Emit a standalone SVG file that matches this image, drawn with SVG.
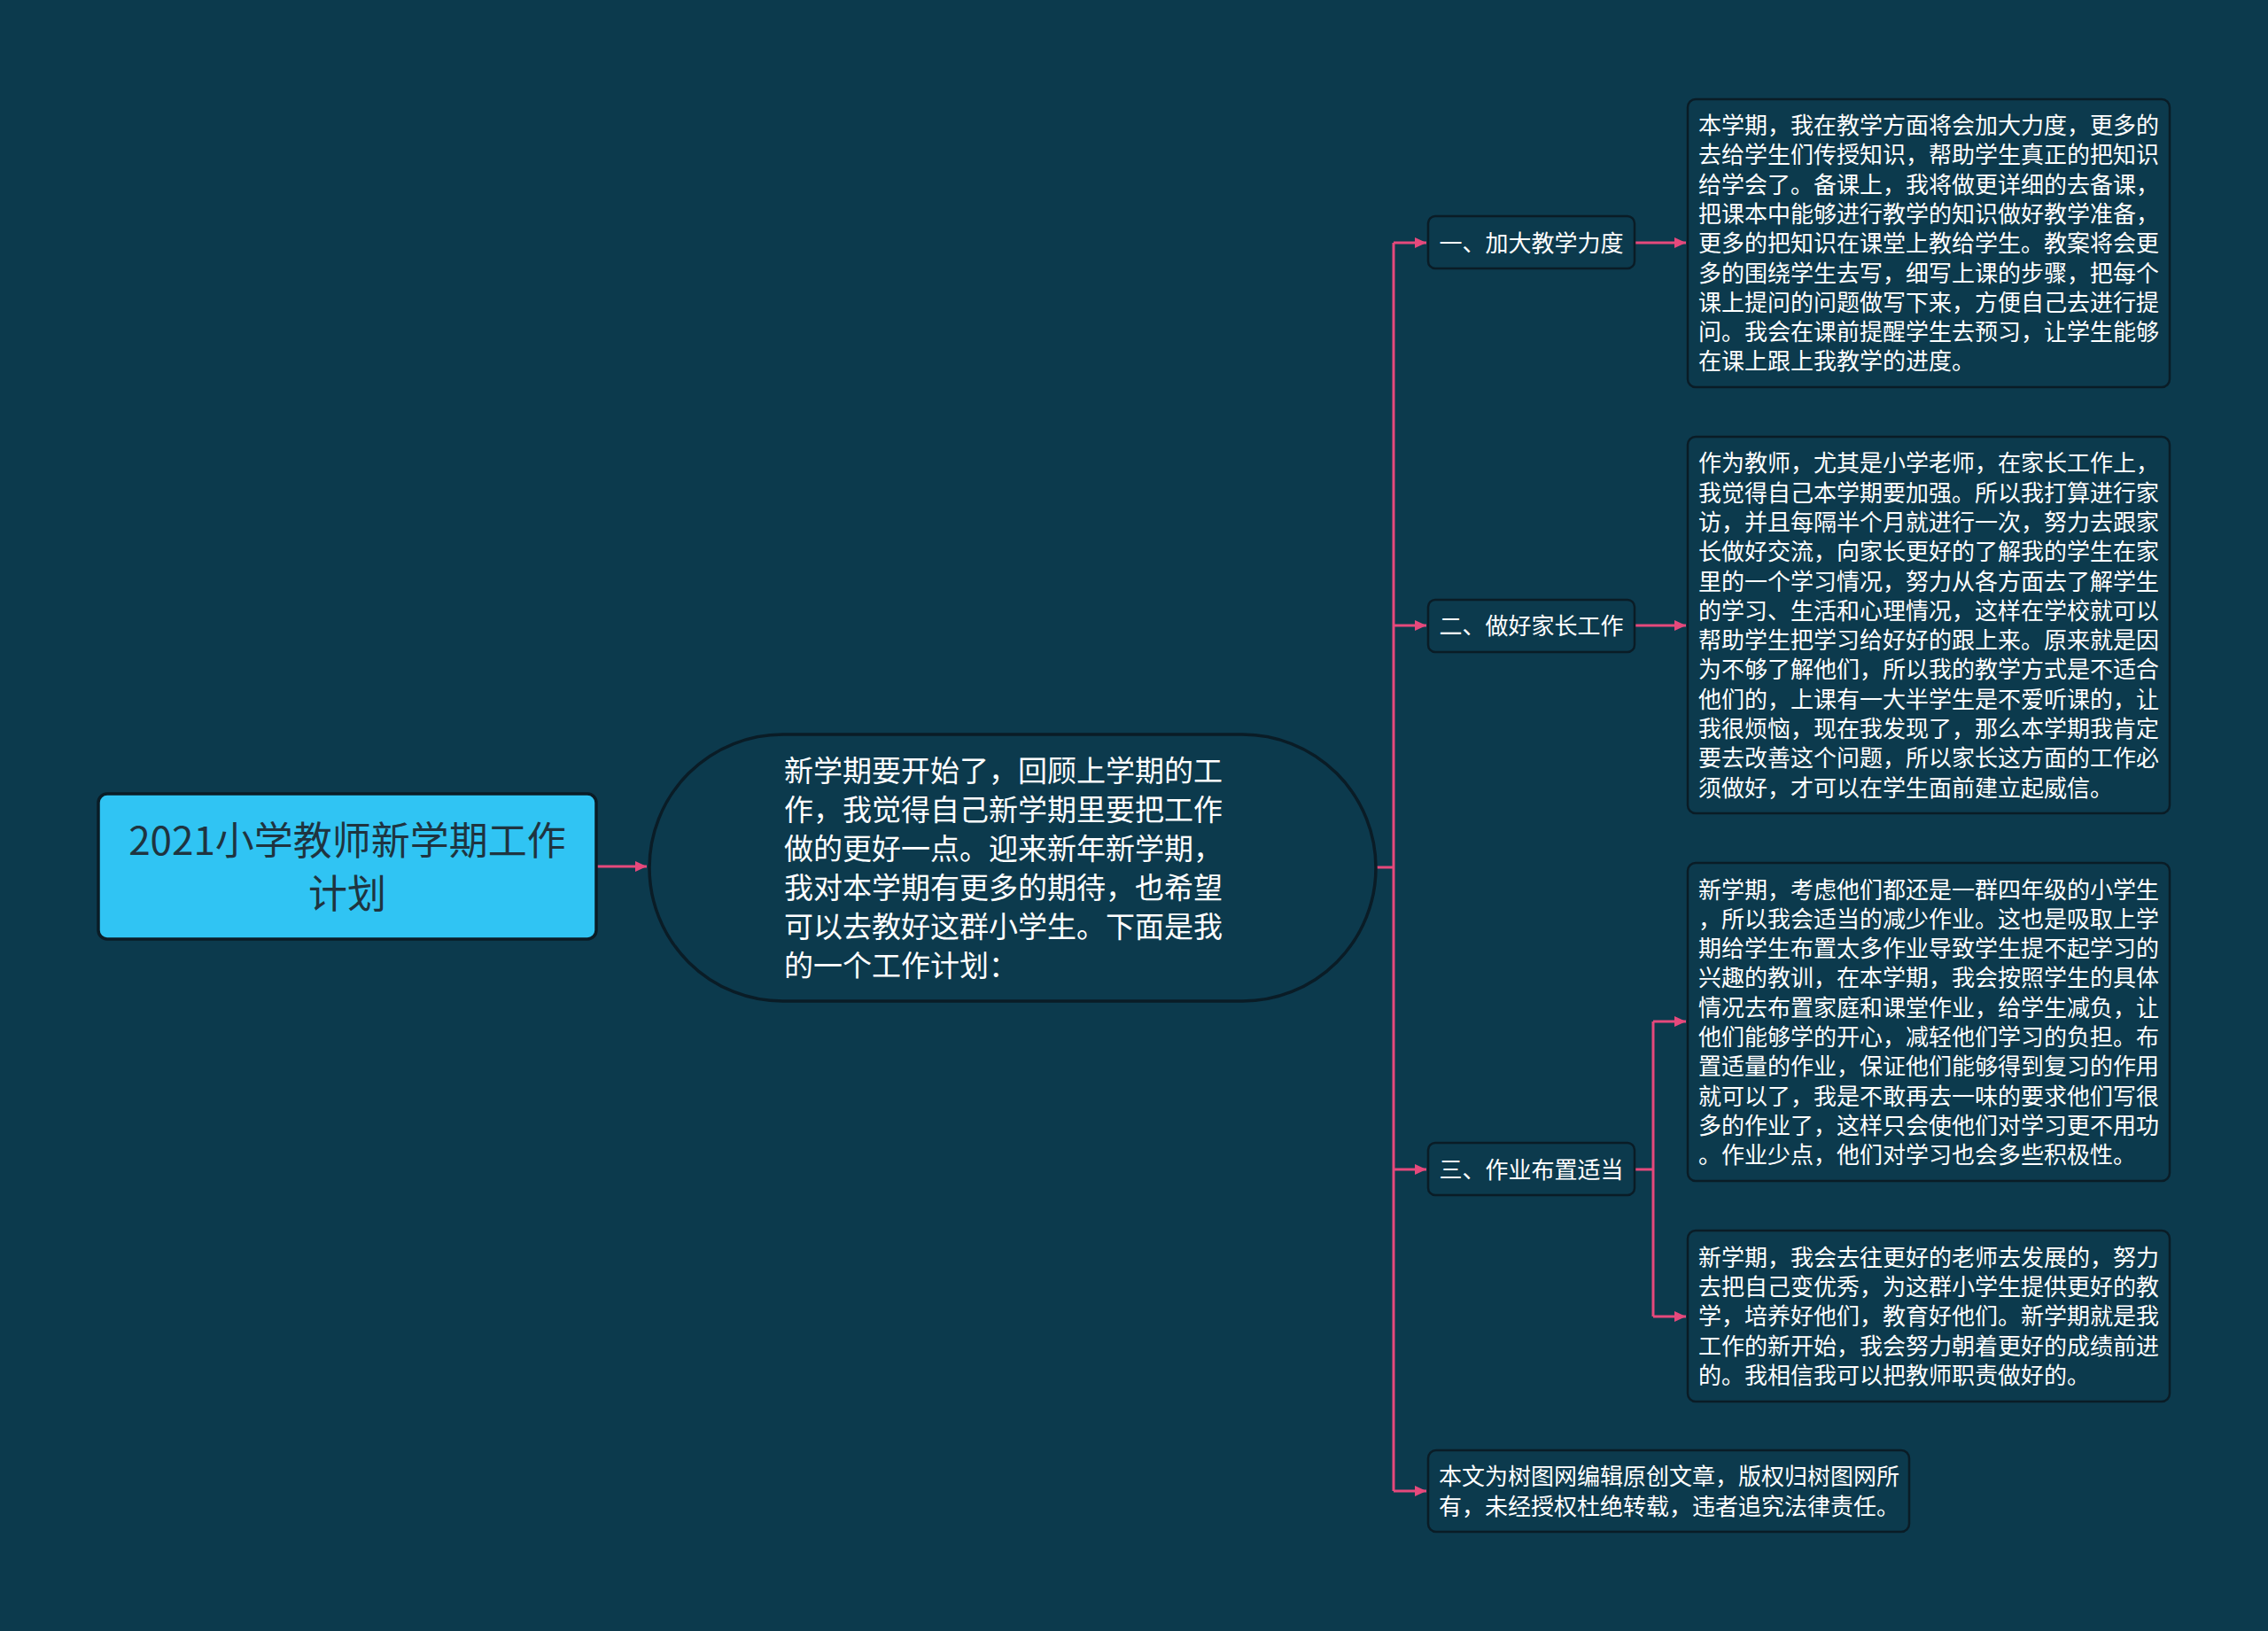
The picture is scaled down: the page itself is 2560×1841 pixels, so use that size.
<svg xmlns="http://www.w3.org/2000/svg" width="2560" height="1841" viewBox="0 0 2560 1841">
<defs>
<marker id="arr" markerUnits="userSpaceOnUse" markerWidth="14" markerHeight="14" refX="13" refY="7" orient="auto">
<path d="M0,1 L13,7 L0,13 z" fill="#e6497c"/>
</marker>
<style>
.bg{fill:#0c3a4d}
.edge{fill:none;stroke:#e6497c;stroke-width:3}
.box{fill:#0c3a4d;stroke:#0a1c26;stroke-width:2.5}
.t{font-family:"Noto Sans CJK SC","Noto Sans",sans-serif;fill:#ffffff}
.s26{font-size:26px}
.s33{font-size:33px}
.root{fill:#30c4f3;stroke:#0a1c26;stroke-width:3.5}
.rt{font-family:"Noto Sans CJK SC","Noto Sans",sans-serif;font-size:44px;fill:#1f3440;text-anchor:middle}
</style>
</defs>
<rect class="bg" x="0" y="0" width="2560" height="1841"/>

<g id="connectors">
<path class="edge" d="M674,978 L730,978" marker-end="url(#arr)"/>
<path class="edge" d="M1553,979 L1573,979"/>
<path class="edge" d="M1573,274 L1573,1683"/>
<path class="edge" d="M1573,274 L1610,274" marker-end="url(#arr)"/>
<path class="edge" d="M1573,706 L1610,706" marker-end="url(#arr)"/>
<path class="edge" d="M1573,1320 L1610,1320" marker-end="url(#arr)"/>
<path class="edge" d="M1573,1683 L1610,1683" marker-end="url(#arr)"/>
<path class="edge" d="M1846,274 L1903,274" marker-end="url(#arr)"/>
<path class="edge" d="M1846,706 L1903,706" marker-end="url(#arr)"/>
<path class="edge" d="M1846,1320 L1866,1320"/>
<path class="edge" d="M1866,1153 L1866,1486"/>
<path class="edge" d="M1866,1153 L1903,1153" marker-end="url(#arr)"/>
<path class="edge" d="M1866,1486 L1903,1486" marker-end="url(#arr)"/>
</g>

<g id="root">
<rect class="root" x="111" y="896" width="562" height="164" rx="10"/>
<text class="rt" x="392" y="965">2021小学教师新学期工作</text>
<text class="rt" x="392" y="1025">计划</text>
</g>

<g id="center">
<rect class="box" x="733" y="829" width="820" height="301" rx="150.5" style="stroke-width:3.5"/>
<text class="t s33" x="885" y="882">新学期要开始了，回顾上学期的工</text>
<text class="t s33" x="885" y="926">作，我觉得自己新学期里要把工作</text>
<text class="t s33" x="885" y="970">做的更好一点。迎来新年新学期，</text>
<text class="t s33" x="885" y="1014">我对本学期有更多的期待，也希望</text>
<text class="t s33" x="885" y="1058">可以去教好这群小学生。下面是我</text>
<text class="t s33" x="885" y="1102">的一个工作计划：</text>
</g>

<g id="branch1">
<rect class="box" x="1612" y="244" width="233" height="59" rx="8"/>
<text class="t s26" x="1728.5" y="284" text-anchor="middle">一、加大教学力度</text>
</g>
<g id="detail1">
<rect class="box" x="1905" y="112" width="544" height="325" rx="9"/>
<text class="t s26" x="1917" y="151">本学期，我在教学方面将会加大力度，更多的</text>
<text class="t s26" x="1917" y="184.3">去给学生们传授知识，帮助学生真正的把知识</text>
<text class="t s26" x="1917" y="217.6">给学会了。备课上，我将做更详细的去备课，</text>
<text class="t s26" x="1917" y="250.9">把课本中能够进行教学的知识做好教学准备，</text>
<text class="t s26" x="1917" y="284.2">更多的把知识在课堂上教给学生。教案将会更</text>
<text class="t s26" x="1917" y="317.5">多的围绕学生去写，细写上课的步骤，把每个</text>
<text class="t s26" x="1917" y="350.8">课上提问的问题做写下来，方便自己去进行提</text>
<text class="t s26" x="1917" y="384.1">问。我会在课前提醒学生去预习，让学生能够</text>
<text class="t s26" x="1917" y="417.4">在课上跟上我教学的进度。</text>
</g>

<g id="branch2">
<rect class="box" x="1612" y="677" width="233" height="59" rx="8"/>
<text class="t s26" x="1728.5" y="716" text-anchor="middle">二、做好家长工作</text>
</g>
<g id="detail2">
<rect class="box" x="1905" y="493" width="544" height="425" rx="9"/>
<text class="t s26" x="1917" y="532.3">作为教师，尤其是小学老师，在家长工作上，</text>
<text class="t s26" x="1917" y="565.6">我觉得自己本学期要加强。所以我打算进行家</text>
<text class="t s26" x="1917" y="598.9">访，并且每隔半个月就进行一次，努力去跟家</text>
<text class="t s26" x="1917" y="632.2">长做好交流，向家长更好的了解我的学生在家</text>
<text class="t s26" x="1917" y="665.5">里的一个学习情况，努力从各方面去了解学生</text>
<text class="t s26" x="1917" y="698.8">的学习、生活和心理情况，这样在学校就可以</text>
<text class="t s26" x="1917" y="732.1">帮助学生把学习给好好的跟上来。原来就是因</text>
<text class="t s26" x="1917" y="765.4">为不够了解他们，所以我的教学方式是不适合</text>
<text class="t s26" x="1917" y="798.7">他们的，上课有一大半学生是不爱听课的，让</text>
<text class="t s26" x="1917" y="832">我很烦恼，现在我发现了，那么本学期我肯定</text>
<text class="t s26" x="1917" y="865.3">要去改善这个问题，所以家长这方面的工作必</text>
<text class="t s26" x="1917" y="898.6">须做好，才可以在学生面前建立起威信。</text>
</g>

<g id="branch3">
<rect class="box" x="1612" y="1290" width="233" height="59" rx="8"/>
<text class="t s26" x="1728.5" y="1330" text-anchor="middle">三、作业布置适当</text>
</g>
<g id="detail3a">
<rect class="box" x="1905" y="974" width="544" height="359" rx="9"/>
<text class="t s26" x="1917" y="1013.5">新学期，考虑他们都还是一群四年级的小学生</text>
<text class="t s26" x="1917" y="1046.8">，所以我会适当的减少作业。这也是吸取上学</text>
<text class="t s26" x="1917" y="1080.1">期给学生布置太多作业导致学生提不起学习的</text>
<text class="t s26" x="1917" y="1113.4">兴趣的教训，在本学期，我会按照学生的具体</text>
<text class="t s26" x="1917" y="1146.7">情况去布置家庭和课堂作业，给学生减负，让</text>
<text class="t s26" x="1917" y="1180">他们能够学的开心，减轻他们学习的负担。布</text>
<text class="t s26" x="1917" y="1213.3">置适量的作业，保证他们能够得到复习的作用</text>
<text class="t s26" x="1917" y="1246.6">就可以了，我是不敢再去一味的要求他们写很</text>
<text class="t s26" x="1917" y="1279.9">多的作业了，这样只会使他们对学习更不用功</text>
<text class="t s26" x="1917" y="1313.2">。作业少点，他们对学习也会多些积极性。</text>
</g>
<g id="detail3b">
<rect class="box" x="1905" y="1389" width="544" height="193" rx="9"/>
<text class="t s26" x="1917" y="1428.8">新学期，我会去往更好的老师去发展的，努力</text>
<text class="t s26" x="1917" y="1462.1">去把自己变优秀，为这群小学生提供更好的教</text>
<text class="t s26" x="1917" y="1495.4">学，培养好他们，教育好他们。新学期就是我</text>
<text class="t s26" x="1917" y="1528.7">工作的新开始，我会努力朝着更好的成绩前进</text>
<text class="t s26" x="1917" y="1562">的。我相信我可以把教师职责做好的。</text>
</g>

<g id="footer">
<rect class="box" x="1612" y="1637" width="543" height="92" rx="9"/>
<text class="t s26" x="1624" y="1676.3">本文为树图网编辑原创文章，版权归树图网所</text>
<text class="t s26" x="1624" y="1709.6">有，未经授权杜绝转载，违者追究法律责任。</text>
</g>
</svg>
